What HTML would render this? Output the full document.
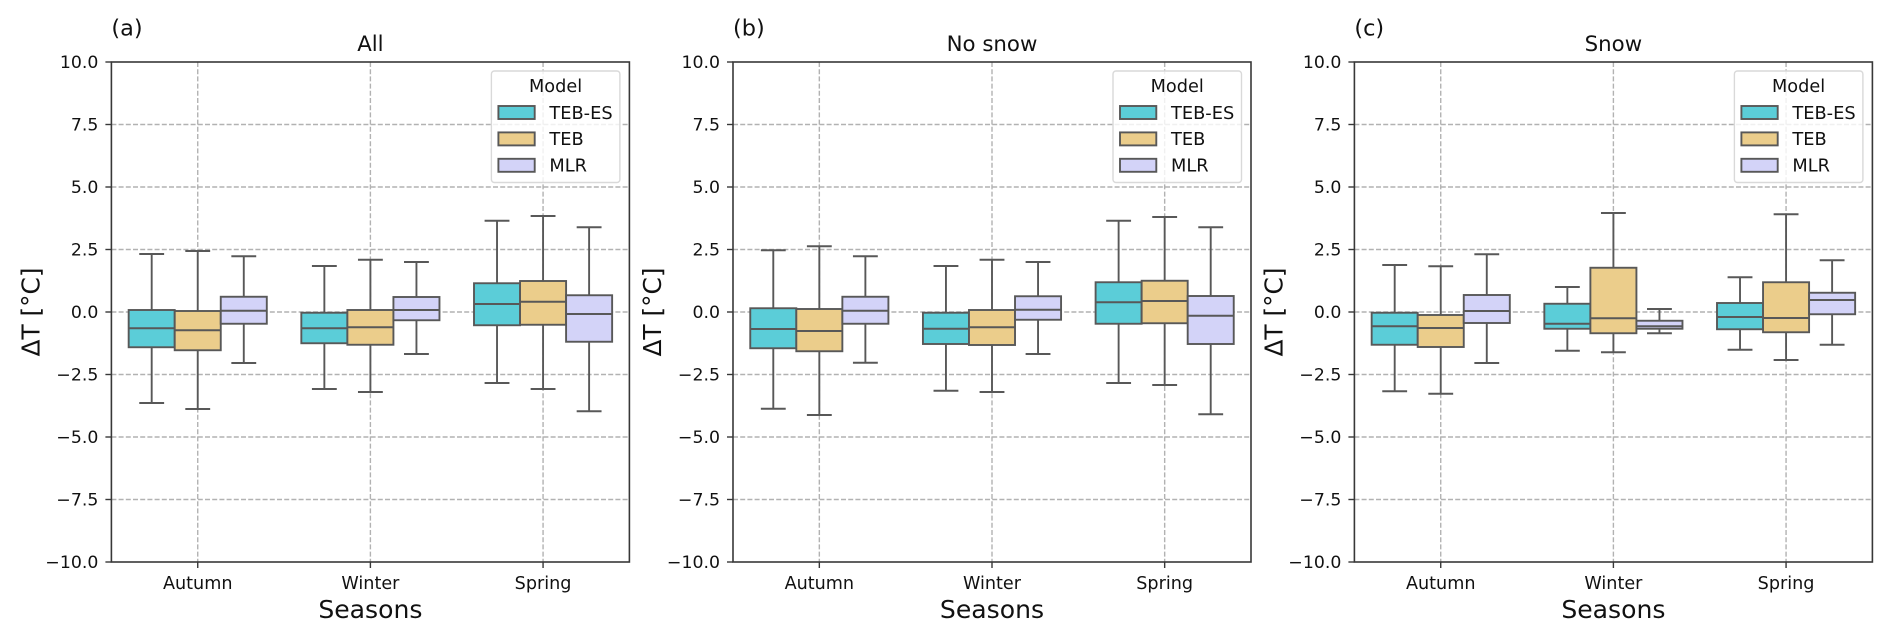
<!DOCTYPE html>
<html lang="en">
<head>
<meta charset="utf-8">
<title>Temperature error box plots by season</title>
<style>
  html, body { margin: 0; padding: 0; background: #fff; }
  body { width: 1892px; height: 638px; overflow: hidden; }
  svg { display: block; font-family: "DejaVu Sans", "Liberation Sans", sans-serif; fill: #111; }
</style>
</head>
<body>
<svg id="figure" xmlns="http://www.w3.org/2000/svg" width="1892" height="638" viewBox="0 0 1892 638"></svg>
<script>
const categories = ["Autumn", "Winter", "Spring"];
const models = ["TEB-ES", "TEB", "MLR"];
const yTickValues = [10, 7.5, 5, 2.5, 0, -2.5, -5, -7.5, -10];
const yTickLabels = ["10.0", "7.5", "5.0", "2.5", "0.0", "\u22122.5", "\u22125.0", "\u22127.5", "\u221210.0"];

// Each array: [season][model]
const allHigh   = [[2.32, 2.44, 2.23], [1.84, 2.09, 2.00], [3.65, 3.84, 3.39]];
const allQ3     = [[0.08, 0.04, 0.61], [-0.03, 0.08, 0.60], [1.15, 1.24, 0.67]];
const allMedian = [[-0.65, -0.73, 0.05], [-0.65, -0.61, 0.08], [0.32, 0.41, -0.08]];
const allQ1     = [[-1.41, -1.53, -0.47], [-1.25, -1.31, -0.33], [-0.53, -0.51, -1.19]];
const allLow    = [[-3.64, -3.88, -2.04], [-3.08, -3.20, -1.68], [-2.84, -3.08, -3.97]];

const noSnowHigh   = [[2.47, 2.63, 2.23], [1.84, 2.09, 2.00], [3.65, 3.80, 3.39]];
const noSnowQ3     = [[0.15, 0.12, 0.61], [-0.03, 0.08, 0.63], [1.19, 1.25, 0.64]];
const noSnowMedian = [[-0.68, -0.76, 0.05], [-0.67, -0.61, 0.09], [0.39, 0.44, -0.15]];
const noSnowQ1     = [[-1.45, -1.57, -0.47], [-1.28, -1.32, -0.31], [-0.47, -0.45, -1.28]];
const noSnowLow    = [[-3.87, -4.12, -2.03], [-3.15, -3.20, -1.68], [-2.84, -2.92, -4.09]];

const snowHigh   = [[1.88, 1.83, 2.31], [1.00, 3.96, 0.12], [1.39, 3.91, 2.07]];
const snowQ3     = [[-0.03, -0.12, 0.68], [0.33, 1.77, -0.35], [0.36, 1.19, 0.77]];
const snowMedian = [[-0.57, -0.64, 0.04], [-0.47, -0.25, -0.57], [-0.20, -0.24, 0.48]];
const snowQ1     = [[-1.31, -1.40, -0.44], [-0.67, -0.85, -0.67], [-0.69, -0.81, -0.09]];
const snowLow    = [[-3.17, -3.27, -2.04], [-1.55, -1.61, -0.85], [-1.51, -1.92, -1.31]];

const panelTitles = ["All", "No snow", "Snow"];
const panelLetters = ["(a)", "(b)", "(c)"];
const panelSlugs = ["all", "no-snow", "snow"];
const panelLefts = [111.4, 733, 1354.4];

const panelHigh = [allHigh, noSnowHigh, snowHigh];
const panelQ3 = [allQ3, noSnowQ3, snowQ3];
const panelMedian = [allMedian, noSnowMedian, snowMedian];
const panelQ1 = [allQ1, noSnowQ1, snowQ1];
const panelLow = [allLow, noSnowLow, snowLow];

const modelColors = ["#5bcdd8", "#ebcd8b", "#d3d3f8"];
const LINE = "#585858";
const LINE_W = 1.9;
const GRID = "#b2b2b2";
const SPINE = "#383838";
const plotWidth = 518;
const plotTop = 62;
const plotBottom = 562;
const yMin = -10;
const yMax = 10;
const NS = "http://www.w3.org/2000/svg";
const figure = document.getElementById("figure");

function yScale(value) {
  return plotBottom - (value - yMin) / (yMax - yMin) * (plotBottom - plotTop);
}
function xCenter(left, seasonIndex) {
  return left + (seasonIndex + 0.5) * plotWidth / categories.length;
}
function boxWidth() {
  return 0.8 * plotWidth / categories.length / models.length;
}
function xModel(left, seasonIndex, modelIndex) {
  return xCenter(left, seasonIndex) + (modelIndex - (models.length - 1) / 2) * boxWidth();
}
function svgEl(parent, tag, attrs, text) {
  const node = document.createElementNS(NS, tag);
  for (const key in attrs) node.setAttribute(key, attrs[key]);
  if (text !== undefined) node.textContent = text;
  parent.appendChild(node);
  return node;
}
function lineAttrs(x1, y1, x2, y2, stroke, width, dash) {
  const a = { x1: x1, y1: y1, x2: x2, y2: y2, stroke: stroke, "stroke-width": width };
  if (dash) a["stroke-dasharray"] = dash;
  return a;
}

panelTitles.forEach(function (title, p) {
  const left = panelLefts[p];
  const right = left + plotWidth;
  const slug = panelSlugs[p];

  const panel = svgEl(figure, "g", {});
  
  

  const letter = svgEl(panel, "text", { x: left, y: 35.5, "font-size": 22.4 }, panelLetters[p]);
  
  

  const titleText = svgEl(panel, "text", { x: left + plotWidth / 2, y: 51, "font-size": 21.3, "text-anchor": "middle" }, title);
  
  

  // Gridlines
  yTickValues.forEach(function (v, i) {
    const y = yScale(v);
    if (v !== yMax && v !== yMin) {
      const grid = svgEl(panel, "line", lineAttrs(left, y, right, y, GRID, 1.4, "5 2.2"));
      
      
    }
    const tick = svgEl(panel, "line", lineAttrs(left - 6, y, left, y, SPINE, 1.4));
    
    
    const label = svgEl(panel, "text", { x: left - 13, y: y + 6.2, "font-size": 17.3, "text-anchor": "end" }, yTickLabels[i]);
    
    
  });

  categories.forEach(function (cat, s) {
    const x = xCenter(left, s);
    const grid = svgEl(panel, "line", lineAttrs(x, plotTop, x, plotBottom, GRID, 1.4, "5 2.2"));
    
    
    const tick = svgEl(panel, "line", lineAttrs(x, plotBottom, x, plotBottom + 6, SPINE, 1.4));
    
    
    const label = svgEl(panel, "text", { x: x, y: 589, "font-size": 17.6, "text-anchor": "middle" }, cat);
    
    
  });

  // Boxes
  categories.forEach(function (cat, s) {
    models.forEach(function (model, m) {
      const cx = xModel(left, s, m);
      const w = boxWidth();
      const capHalf = w * 0.27;
      const hi = yScale(panelHigh[p][s][m]);
      const q3 = yScale(panelQ3[p][s][m]);
      const med = yScale(panelMedian[p][s][m]);
      const q1 = yScale(panelQ1[p][s][m]);
      const lo = yScale(panelLow[p][s][m]);

      const group = svgEl(panel, "g", {});
      
      

      const upper = svgEl(group, "line", lineAttrs(cx, q3, cx, hi, LINE, LINE_W));
      
      
      const lower = svgEl(group, "line", lineAttrs(cx, q1, cx, lo, LINE, LINE_W));
      
      
      const capTop = svgEl(group, "line", lineAttrs(cx - capHalf, hi, cx + capHalf, hi, LINE, LINE_W));
      
      
      const capBottom = svgEl(group, "line", lineAttrs(cx - capHalf, lo, cx + capHalf, lo, LINE, LINE_W));
      
      

      const rect = svgEl(group, "rect", { x: cx - w / 2, y: q3, width: w, height: q1 - q3, fill: modelColors[m], stroke: LINE, "stroke-width": LINE_W });
      
      
      const median = svgEl(group, "line", lineAttrs(cx - w / 2, med, cx + w / 2, med, LINE, LINE_W));
      
      
    });
  });

  // Frame
  const frame = svgEl(panel, "rect", { x: left, y: plotTop, width: plotWidth, height: plotBottom - plotTop, fill: "none", stroke: SPINE, "stroke-width": 1.6 });
  
  

  // Axis titles
  const xTitle = svgEl(panel, "text", { x: left + plotWidth / 2, y: 618, "font-size": 25.1, "text-anchor": "middle" }, "Seasons");
  
  
  const yX = left - 72;
  const yTitle = svgEl(panel, "text", { x: yX, y: 312, "font-size": 24.8, "text-anchor": "middle", transform: "rotate(-90 " + yX + " 312)" }, "\u0394T [\u00B0C]");
  
  

  // Legend
  const legend = svgEl(panel, "g", {});
  
  
  const legendFrame = svgEl(legend, "rect", { x: left + 380, y: 71, width: 128.5, height: 111.5, rx: 3, ry: 3, fill: "#fff", "fill-opacity": 0.8, stroke: "#d9d9d9", "stroke-width": 1.4 });
  
  
  const legendTitle = svgEl(legend, "text", { x: left + 444.2, y: 91.8, "font-size": 17.7, "text-anchor": "middle" }, "Model");
  
  
  models.forEach(function (model, m) {
    const rowTop = 106 + m * 26.4;
    const swatch = svgEl(legend, "rect", { x: left + 387, y: rowTop, width: 36.3, height: 13, fill: modelColors[m], stroke: LINE, "stroke-width": LINE_W });
    
    
    const entry = svgEl(legend, "text", { x: left + 438, y: rowTop + 12.8, "font-size": 17.8 }, model);
    
    
  });
});
</script>
</body>
</html>
